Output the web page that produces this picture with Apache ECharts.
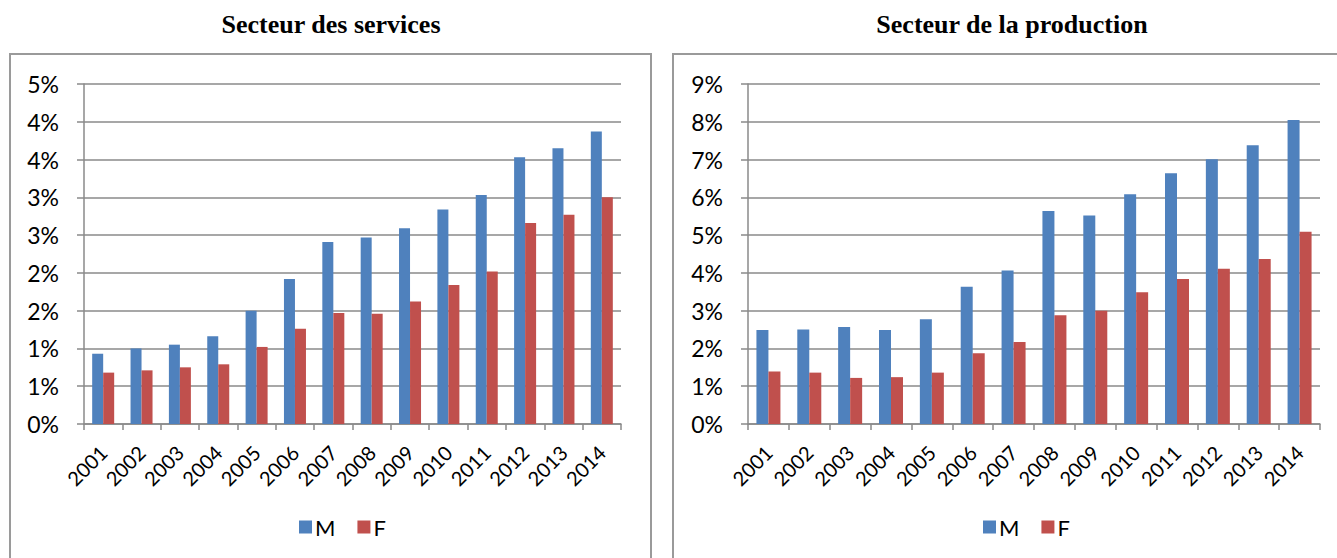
<!DOCTYPE html>
<html>
<head>
<meta charset="utf-8">
<script src="https://cdn.jsdelivr.net/npm/echarts@6/dist/echarts.min.js"></script>
<style>
  html, body { margin: 0; padding: 0; background: #fff; }
  #chart { width: 1337px; height: 558px; }
</style>
</head>
<body>
<div id="chart"></div>
<script>
// Years on the category axis
const years = ['2001','2002','2003','2004','2005','2006','2007','2008','2009','2010','2011','2012','2013','2014'];

// Secteur des services (values in %)
const servicesM = [0.93, 1.00, 1.05, 1.16, 1.50, 1.92, 2.41, 2.47, 2.59, 2.84, 3.03, 3.53, 3.65, 3.87];
const servicesF = [0.68, 0.71, 0.75, 0.79, 1.02, 1.26, 1.47, 1.46, 1.62, 1.84, 2.02, 2.66, 2.77, 3.00];

// Secteur de la production (values in %)
const productionM = [2.49, 2.50, 2.57, 2.49, 2.77, 3.63, 4.06, 5.64, 5.52, 6.08, 6.64, 7.01, 7.38, 8.05];
const productionF = [1.39, 1.36, 1.22, 1.24, 1.36, 1.87, 2.17, 2.88, 3.00, 3.49, 3.84, 4.11, 4.37, 5.09];

// Tick labels as printed (whole-percent format)
const servicesTicks = ['0%','1%','1%','2%','2%','3%','3%','4%','4%','5%'];
const productionTicks = ['0%','1%','2%','3%','4%','5%','6%','7%','8%','9%'];

const titles = ['Secteur des services', 'Secteur de la production'];
const seriesNames = ['M', 'F'];

const BLUE = '#4F81BD';
const RED = '#C0504D';
const GRID = '#8a8a8a';
const FONT = 'Lato, "Open Sans", sans-serif';

const chart = echarts.init(document.getElementById('chart'), null, { renderer: 'svg' });

function yAxis(gridIndex, max, interval, ticks) {
  return {
    type: 'value', gridIndex, min: 0, max, interval,
    axisLine: { show: true, lineStyle: { color: GRID, width: 1.5 } },
    axisTick: { show: true, length: 7, lineStyle: { color: GRID, width: 1.5 } },
    splitLine: { show: true, lineStyle: { color: GRID, width: 1.5 } },
    axisLabel: {
      margin: 25, color: '#000', fontFamily: FONT, fontSize: 23,
      formatter: (v, i) => ticks[i]
    }
  };
}

function xAxis(gridIndex) {
  return {
    type: 'category', gridIndex, data: years,
    axisLine: { show: true, lineStyle: { color: GRID, width: 1.5 } },
    axisTick: { show: true, length: 6, lineStyle: { color: GRID, width: 1.5 } },
    axisLabel: {
      rotate: 45, margin: 25, color: '#000', fontFamily: FONT, fontSize: 20,
      interval: 0
    }
  };
}

function bar(name, data, idx, color, width) {
  return {
    type: 'bar', name, data, xAxisIndex: idx, yAxisIndex: idx,
    barWidth: width, barGap: '0%',
    itemStyle: { color },
    silent: true
  };
}

const legendBase = {
  data: seriesNames, top: 511, icon: 'rect', itemWidth: 13, itemHeight: 13, itemGap: 22,
  textStyle: { fontFamily: FONT, fontSize: 22, color: '#000', padding: [0, 0, 0, -2] }
};

chart.setOption({
  animation: false,
  backgroundColor: '#fff',
  color: [BLUE, RED],
  grid: [
    { left: 84, right: 716, top: 84, bottom: 134 },
    { left: 748, right: 17, top: 84, bottom: 134 }
  ],
  xAxis: [xAxis(0), xAxis(1)],
  yAxis: [
    yAxis(0, 4.5, 0.5, servicesTicks),
    yAxis(1, 9, 1, productionTicks)
  ],
  legend: [
    Object.assign({}, legendBase, { left: 294 }),
    Object.assign({}, legendBase, { left: 978 })
  ],
  graphic: [
    { type: 'rect', shape: { x: 10, y: 54, width: 641, height: 530 },
      style: { fill: 'none', stroke: '#9a9a9a', lineWidth: 2 }, silent: true },
    { type: 'rect', shape: { x: 673, y: 54, width: 700, height: 530 },
      style: { fill: 'none', stroke: '#9a9a9a', lineWidth: 2 }, silent: true },
    { type: 'text', x: 331, y: 24, silent: true,
      style: { text: titles[0], textAlign: 'center', textVerticalAlign: 'middle',
               font: 'bold 26px "Liberation Serif", "Times New Roman", serif', fill: '#000' } },
    { type: 'text', x: 1012, y: 24, silent: true,
      style: { text: titles[1], textAlign: 'center', textVerticalAlign: 'middle',
               font: 'bold 26px "Liberation Serif", "Times New Roman", serif', fill: '#000' } }
  ],
  series: [
    bar(seriesNames[0], servicesM, 0, BLUE, 11),
    bar(seriesNames[1], servicesF, 0, RED, 11),
    bar(seriesNames[0], productionM, 1, BLUE, 12),
    bar(seriesNames[1], productionF, 1, RED, 12)
  ]
});
</script>
</body>
</html>
